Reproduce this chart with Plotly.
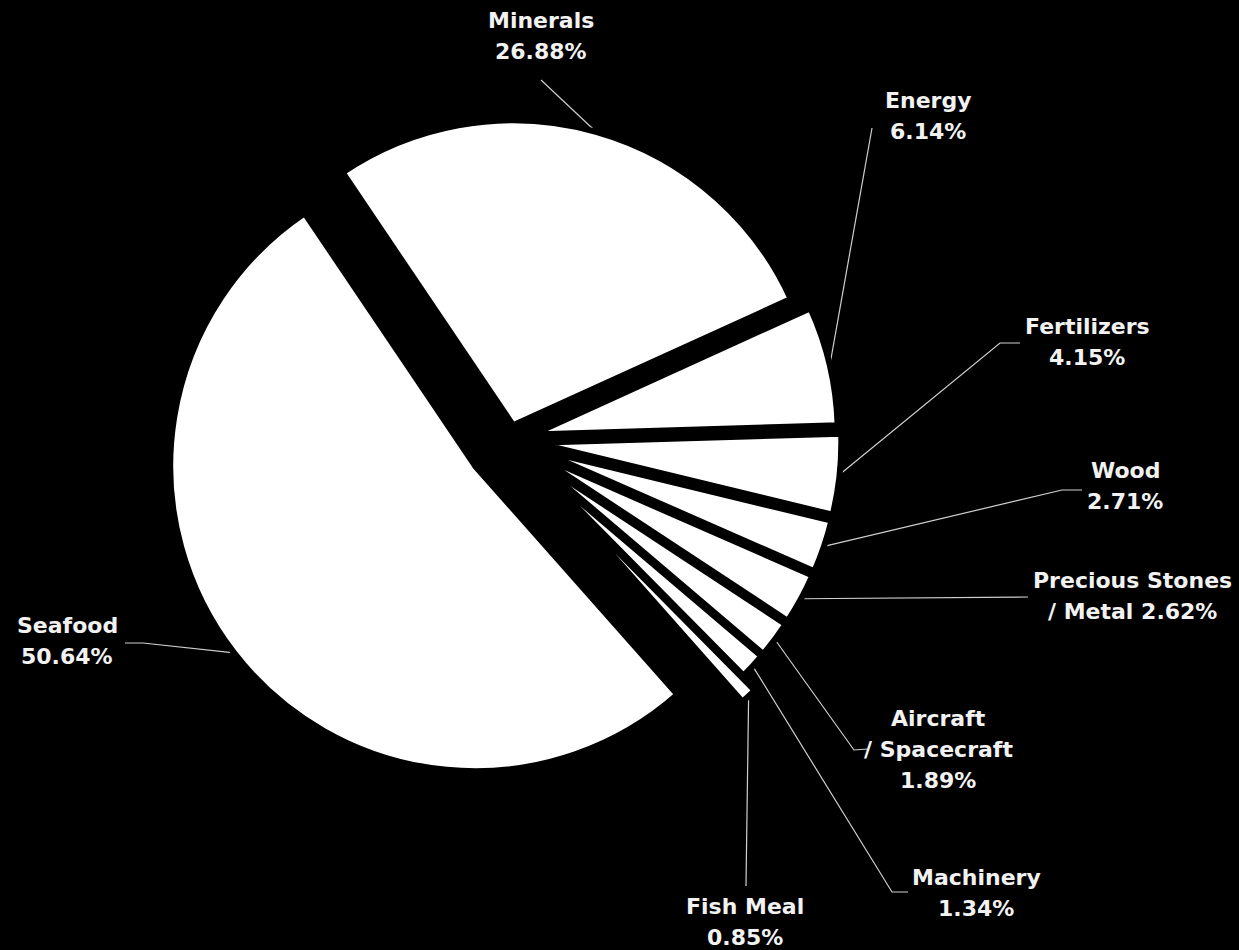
import math
import plotly.graph_objects as go

# Export shares by product group (percent)
categories = ["Minerals", "Energy", "Fertilizers", "Wood", "Precious Stones / Metal",
              "Aircraft / Spacecraft", "Machinery", "Fish Meal", "Seafood"]
shares = [26.88, 6.14, 4.15, 2.71, 2.62, 1.89, 1.34, 0.85, 50.64]
label_templates = ["Minerals\n{p}", "Energy\n{p}", "Fertilizers\n{p}", "Wood\n{p}",
                   "Precious Stones\n/ Metal {p}", "Aircraft\n/ Spacecraft\n{p}",
                   "Machinery\n{p}", "Fish Meal\n{p}", "Seafood\n{p}"]

# Canvas and pie geometry (pixels)
W, H = 1239, 950
CX, CY, R = 509, 440, 305
ROTATION = -34
pulls = [0.05, 0.08, 0.09, 0.09, 0.09, 0.09, 0.09, 0.15, 0.14]

# Label placement: centre of first text line, plus leader-line waypoints ending at the label
label_pos = [(541, 20), (928, 100), (1087, 326), (1125, 470), (1132, 580),
             (938, 718), (976, 877), (745, 906), (67, 625)]
LINE_GAP = 31
leader_paths = [[(541, 80)], [(872, 128)], [(1000, 343), (1020, 343)],
                [(1062, 490), (1082, 490)], [(1018, 597), (1028, 597)],
                [(854, 750), (868, 749)], [(892, 892), (908, 892)],
                [(746, 886)], [(143, 643), (125, 643)]]

FONT = dict(family="DejaVu Sans", size=22, color="#f2f2f2", weight="bold")
LEADER_COLOR = "#cfcfcf"

# Pie domain derived from the desired centre and radius (plotly shrinks r by the max pull)
max_pull = max(pulls)
half_box = R * (1 + max_pull)
dom_x = [(CX - half_box) / W, (CX + half_box) / W]
dom_y = [1 - (CY + half_box) / H, 1 - (CY - half_box) / H]

fig = go.Figure()

fig.add_trace(go.Pie(
    labels=categories,
    values=shares,
    sort=False,
    direction="clockwise",
    rotation=ROTATION,
    pull=pulls,
    textinfo="none",
    hoverinfo="label+value",
    marker=dict(colors=["#ffffff"] * len(shares), line=dict(color="#000000", width=6)),
    domain=dict(x=dom_x, y=dom_y),
    showlegend=False,
))

# Leader lines start on each slice's outer arc at its mid-angle
total = sum(shares)
angle = ROTATION
annotations = []
for name, v, p, tmpl, (lx, ly), path in zip(categories, shares, pulls,
                                            label_templates, label_pos, leader_paths):
    span = 360.0 * v / total
    mid = math.radians(angle + span / 2)
    angle += span
    sx = CX + R * (1 + p) * math.sin(mid)
    sy = CY - R * (1 + p) * math.cos(mid)
    xs = [sx] + [pt[0] for pt in path]
    ys = [sy] + [pt[1] for pt in path]
    fig.add_trace(go.Scatter(x=xs, y=ys, mode="lines", hoverinfo="skip",
                             line=dict(color=LEADER_COLOR, width=1.2),
                             showlegend=False))
    text = tmpl.format(p=f"{v:.2f}%")
    for k, line in enumerate(text.split("\n")):
        annotations.append(dict(x=lx, y=ly + k * LINE_GAP, xref="x", yref="y",
                                text=line, showarrow=False, font=FONT,
                                xanchor="center", yanchor="middle"))

fig.update_layout(
    width=W, height=H,
    margin=dict(l=0, r=0, t=0, b=0),
    paper_bgcolor="#000000",
    plot_bgcolor="#000000",
    xaxis=dict(range=[0, W], visible=False, fixedrange=True),
    yaxis=dict(range=[H, 0], visible=False, fixedrange=True),
    annotations=annotations,
    showlegend=False,
)

fig.write_html("out.html")
